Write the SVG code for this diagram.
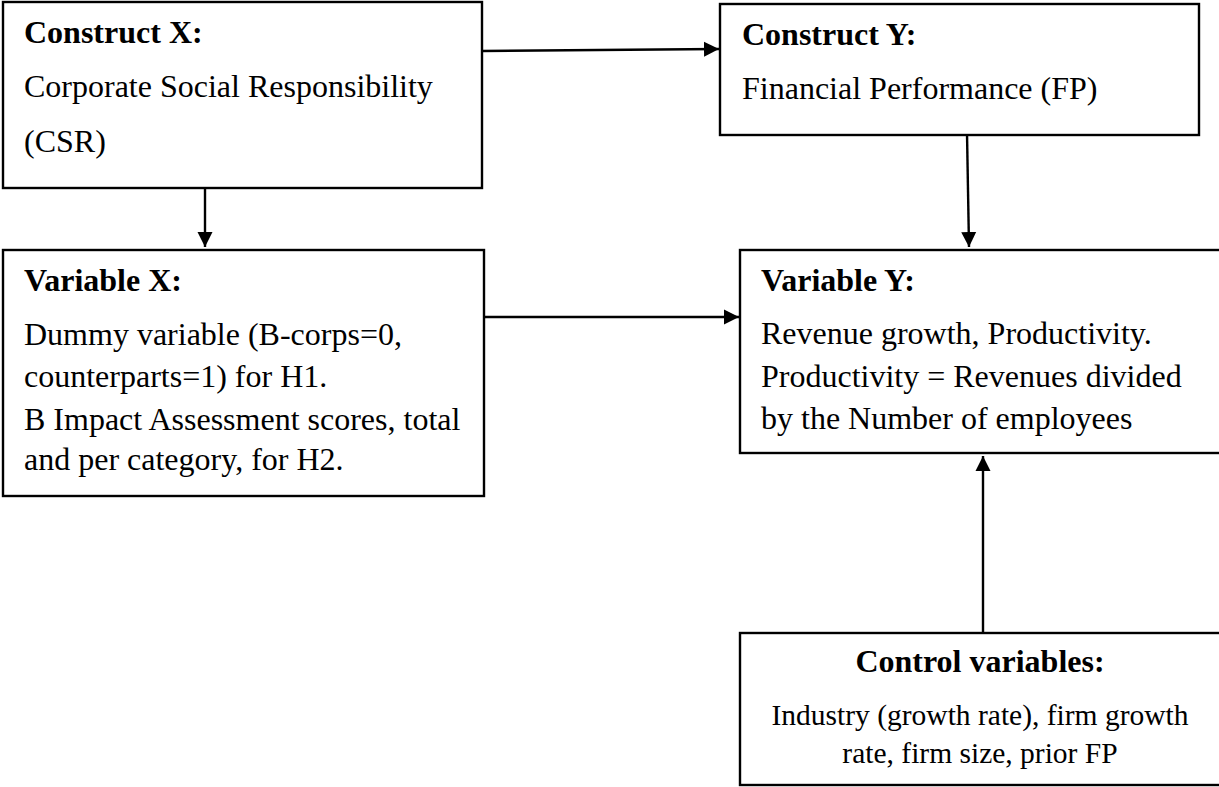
<svg xmlns="http://www.w3.org/2000/svg" width="1219" height="787" viewBox="0 0 1219 787">
<style>
.box{fill:#fff;stroke:#000;stroke-width:2.4}
.t{font-family:"Liberation Serif","Times New Roman",serif;font-size:32px;fill:#000}
.s{font-size:29.5px}
.b{font-weight:bold}
.c{text-anchor:middle}
.conn{stroke:#000;stroke-width:2.4;fill:none;marker-end:url(#ah)}
</style>
<defs>
<marker id="ah" markerUnits="userSpaceOnUse" markerWidth="16" markerHeight="16" refX="15" refY="8" orient="auto">
<path d="M0,0.5 L15,8 L0,15.5 Z" fill="#000"/>
</marker>
</defs>
<rect width="1219" height="787" fill="#fff"/>
<g id="connectors">
<line class="conn" x1="482" y1="51" x2="719" y2="49"/>
<line class="conn" x1="205" y1="188" x2="205" y2="247"/>
<line class="conn" x1="967" y1="133" x2="969" y2="247"/>
<line class="conn" x1="484" y1="317" x2="739" y2="317"/>
<line class="conn" x1="983" y1="633" x2="983" y2="456"/>
</g>
<g id="constructX">
<rect class="box" x="3" y="2" width="479" height="186"/>
<text class="t b" x="24" y="43">Construct X:</text>
<text class="t" x="24" y="97">Corporate Social Responsibility</text>
<text class="t" x="24" y="152">(CSR)</text>
</g>
<g id="constructY">
<rect class="box" x="720" y="4" width="479" height="131"/>
<text class="t b" x="742" y="45">Construct Y:</text>
<text class="t" x="742" y="99">Financial Performance (FP)</text>
</g>
<g id="variableX">
<rect class="box" x="3" y="250" width="481" height="246"/>
<text class="t b" x="24" y="291">Variable X:</text>
<text class="t" x="24" y="345">Dummy variable (B-corps=0,</text>
<text class="t" x="24" y="387">counterparts=1) for H1.</text>
<text class="t" x="24" y="430">B Impact Assessment scores, total</text>
<text class="t" x="24" y="470">and per category, for H2.</text>
</g>
<g id="variableY">
<rect class="box" x="740" y="250" width="482" height="203"/>
<text class="t b" x="761" y="291">Variable Y:</text>
<text class="t" x="761" y="344">Revenue growth, Productivity.</text>
<text class="t" x="761" y="387">Productivity = Revenues divided</text>
<text class="t" x="761" y="429">by the Number of employees</text>
</g>
<g id="control">
<rect class="box" x="740" y="633" width="482" height="152"/>
<text class="t b c" x="980" y="672">Control variables:</text>
<text class="t s c" x="980" y="725">Industry (growth rate), firm growth</text>
<text class="t s c" x="980" y="763">rate, firm size, prior FP</text>
</g>
</svg>
